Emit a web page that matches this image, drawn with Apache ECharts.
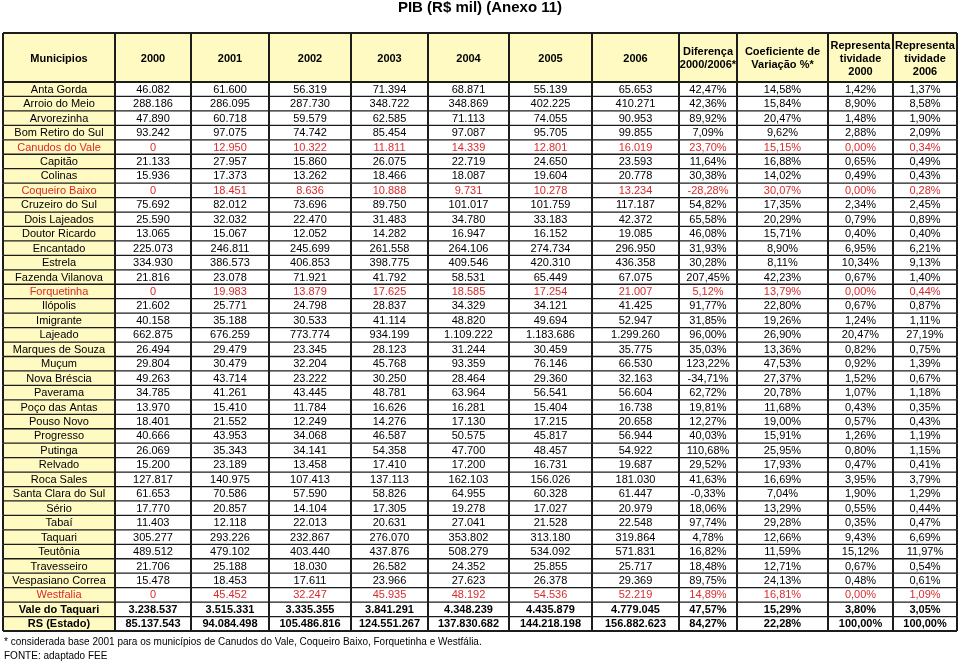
<!DOCTYPE html>
<html>
<head>
<meta charset="utf-8">
<title>PIB (R$ mil) (Anexo 11)</title>
<script src="https://cdn.jsdelivr.net/npm/echarts@6/dist/echarts.min.js"></script>
<style>
  html, body { margin: 0; padding: 0; background: #fff; }
  #chart { width: 960px; height: 661px; }
</style>
</head>
<body>
<div id="chart"></div>
<script>
// dados da tabela
const anos = ['2000', '2001', '2002', '2003', '2004', '2005', '2006']
const cabecalho = ['Municipios'].concat(anos, ['Diferença\n2000/2006*', 'Coeficiente de\nVariação %*', 'Representa\ntividade\n2000', 'Representa\ntividade\n2006'])

const municipios = ['Anta Gorda', 'Arroio do Meio', 'Arvorezinha', 'Bom Retiro do Sul', 'Canudos do Vale', 'Capitão', 'Colinas', 'Coqueiro Baixo', 'Cruzeiro do Sul', 'Dois Lajeados', 'Doutor Ricardo', 'Encantado', 'Estrela', 'Fazenda Vilanova', 'Forquetinha', 'Ilópolis', 'Imigrante', 'Lajeado', 'Marques de Souza', 'Muçum', 'Nova Bréscia', 'Paverama', 'Poço das Antas', 'Pouso Novo', 'Progresso', 'Putinga', 'Relvado', 'Roca Sales', 'Santa Clara do Sul', 'Sério', 'Tabaí', 'Taquari', 'Teutônia', 'Travesseiro', 'Vespasiano Correa', 'Westfalia', 'Vale do Taquari', 'RS (Estado)']

const pib2000 = [46082, 288186, 47890, 93242, 0, 21133, 15936, 0, 75692, 25590, 13065, 225073, 334930, 21816, 0, 21602, 40158, 662875, 26494, 29804, 49263, 34785, 13970, 18401, 40666, 26069, 15200, 127817, 61653, 17770, 11403, 305277, 489512, 21706, 15478, 0, 3238537, 85137543]
const pib2001 = [61600, 286095, 60718, 97075, 12950, 27957, 17373, 18451, 82012, 32032, 15067, 246811, 386573, 23078, 19983, 25771, 35188, 676259, 29479, 30479, 43714, 41261, 15410, 21552, 43953, 35343, 23189, 140975, 70586, 20857, 12118, 293226, 479102, 25188, 18453, 45452, 3515331, 94084498]
const pib2002 = [56319, 287730, 59579, 74742, 10322, 15860, 13262, 8636, 73696, 22470, 12052, 245699, 406853, 71921, 13879, 24798, 30533, 773774, 23345, 32204, 23222, 43445, 11784, 12249, 34068, 34141, 13458, 107413, 57590, 14104, 22013, 232867, 403440, 18030, 17611, 32247, 3335355, 105486816]
const pib2003 = [71394, 348722, 62585, 85454, 11811, 26075, 18466, 10888, 89750, 31483, 14282, 261558, 398775, 41792, 17625, 28837, 41114, 934199, 28123, 45768, 30250, 48781, 16626, 14276, 46587, 54358, 17410, 137113, 58826, 17305, 20631, 276070, 437876, 26582, 23966, 45935, 3841291, 124551267]
const pib2004 = [68871, 348869, 71113, 97087, 14339, 22719, 18087, 9731, 101017, 34780, 16947, 264106, 409546, 58531, 18585, 34329, 48820, 1109222, 31244, 93359, 28464, 63964, 16281, 17130, 50575, 47700, 17200, 162103, 64955, 19278, 27041, 353802, 508279, 24352, 27623, 48192, 4348239, 137830682]
const pib2005 = [55139, 402225, 74055, 95705, 12801, 24650, 19604, 10278, 101759, 33183, 16152, 274734, 420310, 65449, 17254, 34121, 49694, 1183686, 30459, 76146, 29360, 56541, 15404, 17215, 45817, 48457, 16731, 156026, 60328, 17027, 21528, 313180, 534092, 25855, 26378, 54536, 4435879, 144218198]
const pib2006 = [65653, 410271, 90953, 99855, 16019, 23593, 20778, 13234, 117187, 42372, 19085, 296950, 436358, 67075, 21007, 41425, 52947, 1299260, 35775, 66530, 32163, 56604, 16738, 20658, 56944, 54922, 19687, 181030, 61447, 20979, 22548, 319864, 571831, 25717, 29369, 52219, 4779045, 156882623]
const diferenca = [42.47, 42.36, 89.92, 7.09, 23.70, 11.64, 30.38, -28.28, 54.82, 65.58, 46.08, 31.93, 30.28, 207.45, 5.12, 91.77, 31.85, 96.00, 35.03, 123.22, -34.71, 62.72, 19.81, 12.27, 40.03, 110.68, 29.52, 41.63, -0.33, 18.06, 97.74, 4.78, 16.82, 18.48, 89.75, 14.89, 47.57, 84.27]
const coefVariacao = [14.58, 15.84, 20.47, 9.62, 15.15, 16.88, 14.02, 30.07, 17.35, 20.29, 15.71, 8.90, 8.11, 42.23, 13.79, 22.80, 19.26, 26.90, 13.36, 47.53, 27.37, 20.78, 11.68, 19.00, 15.91, 25.95, 17.93, 16.69, 7.04, 13.29, 29.28, 12.66, 11.59, 12.71, 24.13, 16.81, 15.29, 22.28]
const repr2000 = [1.42, 8.90, 1.48, 2.88, 0.00, 0.65, 0.49, 0.00, 2.34, 0.79, 0.40, 6.95, 10.34, 0.67, 0.00, 0.67, 1.24, 20.47, 0.82, 0.92, 1.52, 1.07, 0.43, 0.57, 1.26, 0.80, 0.47, 3.95, 1.90, 0.55, 0.35, 9.43, 15.12, 0.67, 0.48, 0.00, 3.80, 100.00]
const repr2006 = [1.37, 8.58, 1.90, 2.09, 0.34, 0.49, 0.43, 0.28, 2.45, 0.89, 0.40, 6.21, 9.13, 1.40, 0.44, 0.87, 1.11, 27.19, 0.75, 1.39, 0.67, 1.18, 0.35, 0.43, 1.19, 1.15, 0.41, 3.79, 1.29, 0.44, 0.47, 6.69, 11.97, 0.54, 0.61, 1.09, 3.05, 100.00]
const totais = ['Vale do Taquari', 'RS (Estado)']

// layout
const bordas = [0, 112, 188, 266, 348, 425, 506, 589, 676, 734, 825, 890, 954] // limites das colunas
const amarelo = '#fff9c2'
const vermelho = '#d92b2b'
const fonte = '"Liberation Sans", Arial, sans-serif'

function fmtNum(n) {
  return String(n).replace(/\B(?=(\d{3})+(?!\d))/g, '.')
}
function fmtPct(p) {
  return p.toFixed(2).replace('.', ',') + '%'
}
function celulas(i) {
  return [municipios[i]]
    .concat([pib2000, pib2001, pib2002, pib2003, pib2004, pib2005, pib2006].map(a => fmtNum(a[i])))
    .concat([diferenca, coefVariacao, repr2000, repr2006].map(a => fmtPct(a[i])))
}

function linha(x1, y1, x2, y2, w) {
  return { type: 'line', shape: { x1, y1, x2, y2 }, style: { stroke: '#1c1c1c', lineWidth: w } }
}

function renderCabecalho(params, api) {
  const c = api.coord([0, 0])
  const h = api.size([0, 1])[1]
  const y0 = c[1] - h / 2
  const children = []
  cabecalho.forEach((txt, k) => {
    const xa = api.coord([bordas[k], 0])[0]
    const xb = api.coord([bordas[k + 1], 0])[0]
    children.push({ type: 'rect', shape: { x: xa, y: y0, width: xb - xa, height: h }, style: { fill: amarelo } })
    children.push({
      type: 'text',
      style: { x: (xa + xb) / 2, y: y0 + h / 2 + 1, text: txt, align: 'center', verticalAlign: 'middle', fontSize: 11, fontWeight: 'bold', fontFamily: fonte, lineHeight: 13, fill: '#000' }
    })
  })
  const xl = api.coord([bordas[0], 0])[0]
  const xr = api.coord([bordas[bordas.length - 1], 0])[0]
  children.push(linha(xl, y0, xr, y0, 2))
  bordas.forEach(b => {
    const x = api.coord([b, 0])[0]
    children.push(linha(x, y0, x, y0 + h, 2))
  })
  return { type: 'group', children }
}

function renderLinha(params, api) {
  const i = api.value(1)
  const c = api.coord([0, i])
  const h = api.size([0, 1])[1]
  const y0 = c[1] - h / 2
  const negrito = totais.indexOf(municipios[i]) >= 0
  const cor = pib2000[i] === 0 ? vermelho : '#000'
  const children = []
  celulas(i).forEach((txt, k) => {
    const xa = api.coord([bordas[k], i])[0]
    const xb = api.coord([bordas[k + 1], i])[0]
    children.push({ type: 'rect', shape: { x: xa, y: y0, width: xb - xa, height: h }, style: { fill: k === 0 ? amarelo : '#fff' } })
    children.push({
      type: 'text',
      style: { x: (xa + xb) / 2, y: y0 + h / 2 + 0.5, text: txt, align: 'center', verticalAlign: 'middle', fontSize: 11, fontWeight: negrito ? 'bold' : 'normal', fontFamily: fonte, fill: cor }
    })
  })
  const xl = api.coord([bordas[0], i])[0]
  const xr = api.coord([bordas[bordas.length - 1], i])[0]
  children.push(linha(xl, y0, xr, y0, i === 0 ? 2 : 1.3))
  if (i === municipios.length - 1) children.push(linha(xl, y0 + h, xr, y0 + h, 2))
  bordas.forEach(b => {
    const x = api.coord([b, i])[0]
    children.push(linha(x, y0, x, y0 + h, 2))
  })
  return { type: 'group', children }
}

const myChart = echarts.init(document.getElementById('chart'), null, { renderer: 'canvas' })
const option = {
  animation: false,
  backgroundColor: '#fff',
  title: {
    text: 'PIB (R$ mil) (Anexo 11)',
    left: 'center',
    top: 0,
    padding: 0,
    textStyle: { fontSize: 15, fontWeight: 'bold', fontFamily: fonte, color: '#000' }
  },
  grid: [
    { left: 3, width: 954, top: 33, height: 49 }, // cabeçalho
    { left: 3, width: 954, top: 82, height: 549 } // linhas
  ],
  xAxis: [
    { type: 'value', gridIndex: 0, min: 0, max: 954, show: false },
    { type: 'value', gridIndex: 1, min: 0, max: 954, show: false }
  ],
  yAxis: [
    { type: 'category', gridIndex: 0, data: ['cabecalho'], show: false },
    { type: 'category', gridIndex: 1, data: municipios, inverse: true, show: false }
  ],
  graphic: [
    { type: 'text', left: 4, top: 637, style: { text: '* considerada base 2001 para os municípios de Canudos do Vale, Coqueiro Baixo, Forquetinha e Westfália.', fontSize: 10, fontFamily: fonte, fill: '#000' } },
    { type: 'text', left: 4, top: 651, style: { text: 'FONTE: adaptado FEE', fontSize: 10, fontFamily: fonte, fill: '#000' } }
  ],
  series: [
    {
      type: 'custom',
      xAxisIndex: 0,
      yAxisIndex: 0,
      renderItem: renderCabecalho,
      encode: { x: 0, y: 1 },
      data: [[0, 0]]
    },
    {
      type: 'custom',
      xAxisIndex: 1,
      yAxisIndex: 1,
      renderItem: renderLinha,
      encode: { x: 0, y: 1 },
      data: municipios.map((m, i) => [0, i])
    }
  ]
}
myChart.setOption(option)
</script>
</body>
</html>
